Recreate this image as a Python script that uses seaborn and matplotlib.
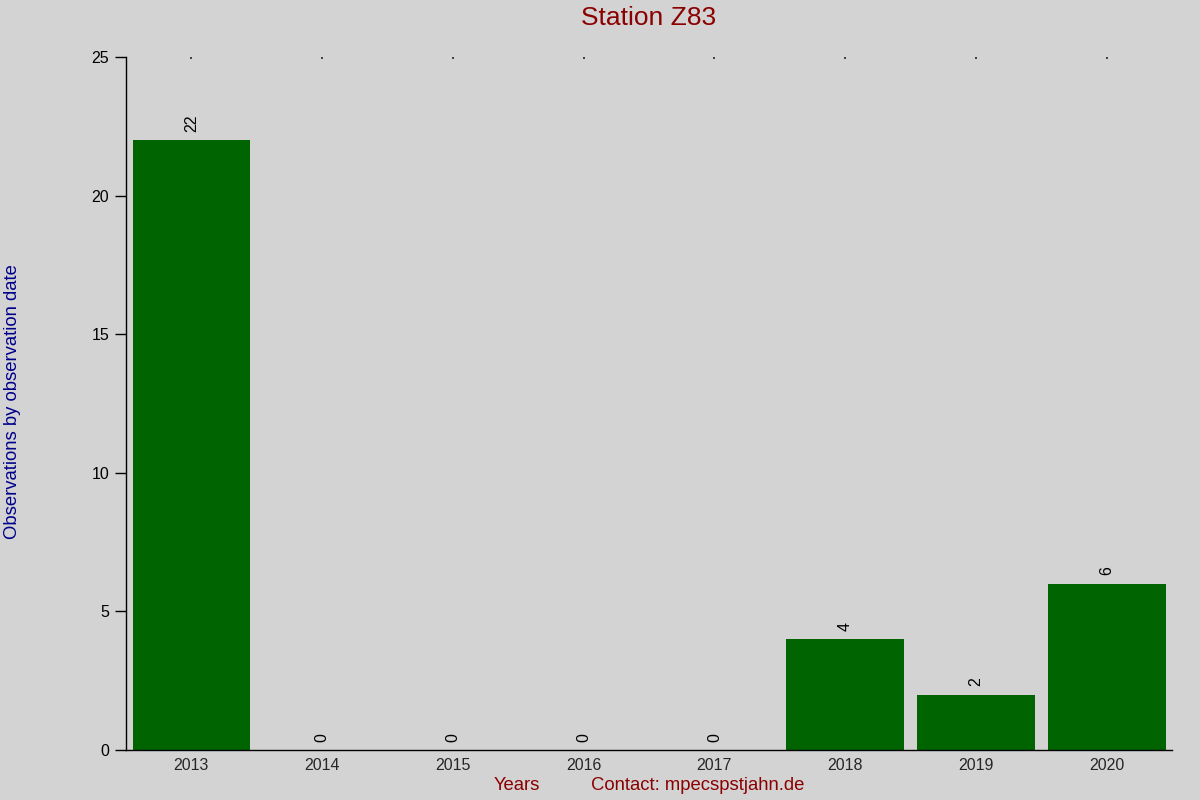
import matplotlib
matplotlib.use("Agg")
import matplotlib.pyplot as plt
import seaborn as sns
import pandas as pd

years = ["2013", "2014", "2015", "2016", "2017", "2018", "2019", "2020"]
counts = [22, 0, 0, 0, 0, 4, 2, 6]
title = "Station Z83"
ylabel = "Observations by observation date"
xlabel = "Years"
contact = "Contact: mpecspstjahn.de"

sns.set_style("white")
plt.rcParams['font.family'] = ['Liberation Sans', 'DejaVu Sans']

bg = "#d3d3d3"
fig = plt.figure(figsize=(12, 8), dpi=100, facecolor=bg)
ax = fig.add_axes([0.105, 0.0625, 0.8717, 0.86625])
ax.set_facecolor(bg)

df = pd.DataFrame({"year": years, "count": counts})
sns.barplot(data=df, x="year", y="count", color="#006400", saturation=1,
            width=0.9, ax=ax, edgecolor="none", linewidth=0)

for i, v in enumerate(counts):
    ax.annotate(str(v), xy=(i, v), xytext=(0, 6), textcoords="offset points",
                rotation=90, ha="center", va="bottom", fontsize=11.5, color="black")

ax.set_xlim(-0.5, 7.5)
ax.set_ylim(0, 25)
ax.set_yticks([0, 5, 10, 15, 20, 25])
ax.tick_params(axis="y", left=True, length=8, width=1, labelsize=11.5, colors="black", pad=4)
ax.tick_params(axis="x", bottom=False, top=True, labelbottom=True, labeltop=False,
               length=1.5, width=1.2, direction="in", labelsize=11.5, pad=6)
for s in ["top", "right"]:
    ax.spines[s].set_visible(False)
for s in ["left", "bottom"]:
    ax.spines[s].set_color("black")
    ax.spines[s].set_linewidth(1)

ax.set_xlabel("")
ax.set_ylabel("")
fig.text(0.5405, 0.977, title, ha="center", va="center", fontsize=19, color="#8b0000")
fig.text(0.003, 0.498, ylabel, rotation=90, ha="left", va="center", fontsize=13.3, color="#00008b")
fig.text(0.4117, 0.0175, xlabel, ha="left", va="center", fontsize=13.3, color="#8b0000")
fig.text(0.4925, 0.0175, contact, ha="left", va="center", fontsize=13.3, color="#8b0000")

fig.savefig("out.png", dpi=100, facecolor=bg)
